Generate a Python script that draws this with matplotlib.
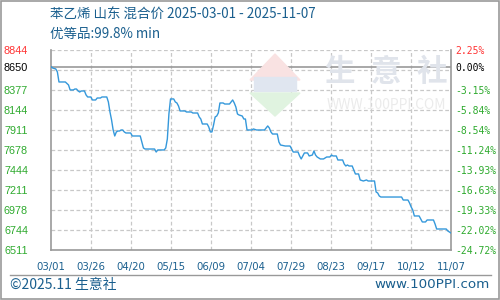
import matplotlib
matplotlib.use("Agg")
import matplotlib.pyplot as plt
from matplotlib.patches import Polygon, Rectangle

plt.rcParams['font.family'] = ['Noto Sans CJK SC', 'DejaVu Sans']

# day offsets from 2025-03-01 and price (yuan/ton)
days = [0, 1, 3, 4, 5, 9, 11, 12, 14, 15, 16, 17, 18, 19, 21, 22, 23, 25, 26, 28,
        29, 31, 32, 35, 36, 37, 38, 39, 40, 41, 42, 43, 44, 45, 46, 47, 50, 51, 56, 57,
        58, 59, 62, 65, 66, 67, 71, 72, 73, 74, 75, 77, 78, 79, 80, 81, 84, 85, 88, 89,
        92, 93, 94, 95, 98, 99, 100, 101, 102, 103, 104, 105, 106, 108, 109, 112, 114, 115, 116, 117,
        118, 120, 121, 122, 123, 126, 127, 129, 134, 135, 136, 137, 138, 139, 142, 143, 144, 147, 150, 151,
        152, 155, 156, 157, 158, 159, 161, 162, 164, 165, 166, 167, 169, 171, 173, 175, 176, 177, 179, 180,
        183, 184, 185, 186, 187, 189, 190, 191, 193, 194, 196, 198, 199, 203, 204, 205, 206, 207, 220, 221,
        224, 225, 226, 227, 228, 231, 232, 233, 235, 236, 240, 241, 242, 248, 249, 251]
prices = [8650, 8634, 8623, 8588, 8471, 8471, 8436, 8378, 8378, 8389, 8389, 8366, 8354, 8366, 8366, 8320, 8296, 8296, 8261, 8261,
          8284, 8284, 8296, 8296, 8238, 8121, 8028, 7911, 7841, 7888, 7899, 7899, 7911, 7911, 7888, 7876, 7876, 7841, 7841, 7771,
          7701, 7689, 7689, 7689, 7654, 7678, 7678, 7701, 7806, 8100, 8273, 8273, 8238, 8226, 8191, 8133, 8133, 8121, 8121, 8109,
          8109, 8063, 8039, 7981, 7981, 7946, 7888, 7888, 7969, 8063, 8074, 8110, 8226, 8226, 8214, 8214, 8261, 8226, 8179, 8098,
          8086, 8074, 8039, 8039, 7911, 7911, 7923, 7911, 7911, 7934, 7958, 7934, 7888, 7864, 7864, 7771, 7736, 7724, 7724, 7689,
          7654, 7654, 7608, 7573, 7608, 7643, 7643, 7608, 7619, 7666, 7619, 7596, 7573, 7573, 7596, 7596, 7619, 7608, 7608, 7561,
          7561, 7514, 7491, 7503, 7491, 7491, 7444, 7398, 7398, 7328, 7316, 7328, 7316, 7316, 7188, 7176, 7141, 7129, 7129, 7094,
          7094, 7059, 7013, 6978, 6908, 6908, 6873, 6838, 6838, 6861, 6861, 6814, 6756, 6756, 6733, 6709]

y_ticks = [8844, 8650, 8377, 8144, 7911, 7678, 7444, 7211, 6978, 6744, 6511]
y_labels = ["8844", "8650", "8377", "8144", "7911", "7678", "7444", "7211", "6978", "6744", "6511"]
pct_labels = ["2.25%", "0.00%", "-3.15%", "-5.84%", "-8.54%", "-11.24%", "-13.93%",
              "-16.63%", "-19.33%", "-22.02%", "-24.72%"]
grid_values = [6744, 6978, 7211, 7444, 7678, 7911, 8144, 8377, 8611, 8844]
x_labels = ["03/01", "03/26", "04/20", "05/15", "06/09", "07/04", "07/29",
            "08/23", "09/17", "10/12", "11/07"]
total_days = 251

blue = "#1a5f8e"
green = "#2eaa2e"
red = "#ff3333"
grid_c = "#c8c8c8"

W, H = 500, 300
fig = plt.figure(figsize=(5, 3), dpi=100)


def fx(x):
    return x / W


def fy(y):
    return 1 - y / H


# outer frame
fig.patches.append(Rectangle((0.001, 0.002), 0.997, 0.995, transform=fig.transFigure,
                             fill=False, edgecolor="#999999", linewidth=1.2))

# watermark logo
fig.patches.append(Polygon([(fx(250), fy(80)), (fx(300), fy(80)), (fx(275), fy(54))],
                           closed=True, transform=fig.transFigure, color="#f9e2e2", zorder=0))
fig.patches.append(Rectangle((fx(254), fy(91)), 42 / W, 14 / H, transform=fig.transFigure,
                             color="#e0e6f0", zorder=0))
fig.patches.append(Polygon([(fx(250), fy(93)), (fx(300), fy(93)), (fx(275), fy(116))],
                           closed=True, transform=fig.transFigure, color="#e0f3e0", zorder=0))
for cx, ch in zip([339, 386, 432], "生意社"):
    fig.text(fx(cx), fy(72), ch, fontsize=22, color="#e0e4eb", ha="center", va="center",
             fontweight="bold", zorder=0)
fig.text(fx(386), fy(105), "WWW.100PPI.COM", fontsize=10, color="#ebebeb",
         ha="center", va="center", zorder=0)

ax = fig.add_axes([fx(51), fy(250), 400 / W, 200 / H])
ax.set_facecolor("none")
ax.plot(days, prices, color="#3498db", linewidth=1.0, zorder=3)

ax.set_xlim(0, total_days)
ax.set_ylim(6511, 8844)

x_pos = [total_days * i / 10 for i in range(11)]
for xp in x_pos[1:-1]:
    ax.axvline(xp, color=grid_c, linestyle=(0, (3, 2)), linewidth=0.9, zorder=1)
for gv in grid_values:
    ax.axhline(gv, color=grid_c, linestyle=(0, (3, 2)), linewidth=0.9, zorder=1)
ax.axhline(8650, color="#999999", linewidth=1.2, zorder=2)

for side in ["left", "bottom", "right"]:
    ax.spines[side].set_color("#999999")
    ax.spines[side].set_linewidth(1.2)
ax.spines["top"].set_visible(False)

ax.set_xticks(x_pos)
ax.set_xticklabels(x_labels, fontsize=7.3, color=blue, family="DejaVu Sans")
ax.set_yticks(y_ticks)
ax.set_yticklabels(y_labels, fontsize=7.8, family="Liberation Sans")
ax.tick_params(axis="both", length=0)
ax.tick_params(axis="x", pad=8.5)
ax.tick_params(axis="y", pad=16.5)
for i, t in enumerate(ax.get_yticklabels()):
    t.set_color(red if i == 0 else ("black" if i == 1 else green))

ax2 = ax.twinx()
ax2.set_ylim(6511, 8844)
ax2.set_yticks(y_ticks)
ax2.set_yticklabels(pct_labels, fontsize=7, family="DejaVu Sans Mono")
ax2.tick_params(axis="y", length=0, pad=3)
for side in ["left", "bottom", "right", "top"]:
    ax2.spines[side].set_visible(False)
for i, t in enumerate(ax2.get_yticklabels()):
    t.set_color(red if i == 0 else ("black" if i == 1 else green))

# titles
fig.text(fx(50), fy(15), "苯乙烯 山东 混合价 2025-03-01 - 2025-11-07", fontsize=9.7,
         color=blue, ha="left", va="center")
fig.text(fx(50), fy(34), "优等品:99.8% min", fontsize=9.7, color=blue, ha="left", va="center")

# footer
fig.add_artist(plt.Line2D([fx(10), fx(491)], [fy(275), fy(275)], color="#999999",
                          linewidth=1, transform=fig.transFigure))
fig.text(fx(10), fy(285), "©2025.11 生意社", fontsize=10, color=blue, ha="left", va="center")
fig.text(fx(490), fy(285), "www.100PPI.com", fontsize=9.7, color=blue, ha="right", va="center",
         family="DejaVu Sans")

fig.savefig("out.png", dpi=100)
